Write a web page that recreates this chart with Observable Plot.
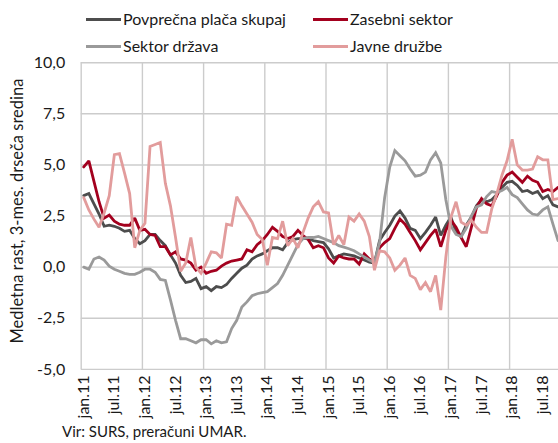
<!DOCTYPE html>
<html><head><meta charset="utf-8">
<script src="https://cdn.jsdelivr.net/npm/d3@7"></script>
<script src="https://cdn.jsdelivr.net/npm/@observablehq/plot@0.6"></script>
<style>
body{margin:0;background:#fff;overflow:hidden;font-family:Lato,sans-serif;color:#1a1a1a}
#wrap{position:relative;width:558px;height:443px;overflow:hidden;background:#fff}
#chart{position:absolute;left:0;top:0}
#legend{position:absolute;left:0;top:0;width:558px;height:56px;z-index:2}
.item{position:absolute;font-size:16px;line-height:18px;white-space:nowrap}
.sw{display:inline-block;width:35px;height:3px;vertical-align:middle;margin-right:2px;position:relative;top:-1px}
#caption{position:absolute;left:62px;top:423px;font-size:15px;line-height:17px;white-space:nowrap}
</style></head>
<body><div id="wrap"><div id="chart"></div><div id="legend"></div><div id="caption"></div></div>
<script>
// ---- data ----
const seriesNames = ["Povprečna plača skupaj", "Zasebni sektor", "Sektor država", "Javne družbe"];
const seriesColors = ["#4d4d4d", "#a3001e", "#9a9a9a", "#e29c9c"];
const xTickLabels = ["jan.11","jul.11","jan.12","jul.12","jan.13","jul.13","jan.14","jul.14","jan.15","jul.15","jan.16","jul.16","jan.17","jul.17","jan.18","jul.18"];
const yTicks = [-5, -2.5, 0, 2.5, 5, 7.5, 10];
const yTitle = "Medletna rast, 3-mes. drseča sredina";
const caption = "Vir: SURS, preračuni UMAR.";
// monthly values, jan 2011 .. oct 2018
const skupaj = [3.5,3.6,3.1,2.6,2.0,2.05,2.0,1.9,1.75,1.8,1.4,1.15,
  1.3,1.6,1.6,1.3,1.05,0.6,0.2,-0.4,-0.75,-0.7,-0.55,-1.05,
  -0.95,-1.15,-0.95,-1.0,-0.85,-0.55,-0.3,-0.05,0.1,0.4,0.55,0.65,
  0.8,0.95,0.95,0.85,1.2,1.35,1.4,1.4,1.4,1.3,1.25,1.2,
  0.9,0.45,0.55,0.65,0.6,0.55,0.45,0.35,0.25,0.2,1.3,1.7,
  2.05,2.5,2.75,2.4,1.9,1.8,1.4,1.7,2.05,2.45,1.55,2.05,
  2.45,1.7,1.5,2.05,2.45,3.0,3.3,3.2,3.3,3.55,3.9,4.15,
  4.2,4.0,3.7,3.75,3.6,3.7,3.35,3.5,3.05,2.95];
const zasebni = [4.9,5.2,4.2,3.2,2.4,2.55,2.25,2.1,2.05,2.05,2.4,1.8,
  1.85,1.6,1.55,1.0,1.0,0.6,0.75,0.4,0.35,0.2,-0.15,0.0,
  -0.3,-0.2,-0.15,0.05,0.2,0.3,0.35,0.4,0.85,0.75,1.1,1.3,
  1.6,1.95,1.75,1.5,1.4,1.5,1.8,1.55,1.35,0.95,1.05,0.95,
  0.45,0.2,0.55,0.45,0.4,0.4,0.15,0.65,0.4,0.25,0.95,1.2,
  1.4,1.9,2.35,2.1,1.7,1.3,0.85,1.2,1.55,1.85,1.0,1.8,
  2.3,1.95,1.45,1.0,1.95,2.9,3.35,3.1,3.0,3.5,4.15,4.5,
  4.65,4.4,4.15,4.45,4.25,4.15,3.7,3.8,3.7,3.9];
const drzava = [0.0,-0.1,0.4,0.5,0.35,0.05,-0.1,-0.2,-0.3,-0.35,-0.35,-0.25,
  -0.1,-0.1,-0.25,-0.6,-0.65,-1.6,-2.6,-3.5,-3.5,-3.6,-3.7,-3.55,
  -3.55,-3.75,-3.6,-3.7,-3.65,-3.0,-2.6,-1.95,-1.7,-1.4,-1.3,-1.25,
  -1.2,-1.0,-0.8,-0.4,0.1,0.6,1.1,1.4,1.45,1.45,1.5,1.4,
  1.3,1.2,1.05,0.98,0.9,0.8,0.65,0.5,0.35,0.22,1.2,3.4,
  4.9,5.7,5.45,5.2,4.8,4.45,4.5,4.65,5.25,5.6,5.1,3.3,
  2.0,1.6,1.5,1.9,2.5,2.95,3.05,3.45,3.7,3.65,3.75,3.9,
  3.55,3.4,3.1,2.8,2.6,2.55,2.8,2.95,2.1,1.3];
const javne = [3.4,2.8,2.35,1.95,2.65,3.5,5.5,5.55,4.6,3.6,0.95,1.8,
  2.15,5.9,6.0,6.1,4.1,3.0,1.45,-0.2,0.2,1.45,0.0,-0.3,
  0.2,0.75,0.7,0.45,2.1,2.05,3.45,3.0,2.6,2.2,1.6,1.35,
  0.1,1.45,1.4,2.25,1.05,1.4,0.95,1.7,2.4,2.95,3.2,2.7,
  2.65,1.1,1.55,1.1,2.45,2.25,2.6,2.25,1.5,-0.15,0.8,0.75,
  0.45,-0.15,0.1,0.45,-0.4,-0.55,-1.1,-0.75,-1.2,-0.4,-2.1,0.5,
  2.45,3.2,2.2,2.05,2.3,1.95,1.7,1.7,2.85,3.6,4.5,5.2,
  6.25,5.0,4.75,4.75,4.8,5.4,5.25,5.25,3.3,3.35];
const seriesValues = [skupaj, zasebni, drzava, javne];

// ---- build ----
const rows = [];
seriesValues.forEach((vals, k) => vals.forEach((v, i) => rows.push({i, v, s: seriesNames[k]})));
const tickIdx = xTickLabels.map((_, k) => k * 6);
const gridX = d3.range(-0.5, 94, 12);
const fmt = d => d.toFixed(1).replace(".", ",");

// legend
const legPos = [[86, 10], [313, 10], [86, 37], [313, 37]];
const leg = document.getElementById("legend");
seriesNames.forEach((n, k) => {
  const d = document.createElement("div");
  d.className = "item";
  d.style.left = legPos[k][0] + "px"; d.style.top = legPos[k][1] + "px";
  d.innerHTML = `<span class="sw" style="background:${seriesColors[k]}"></span>${n}`;
  leg.appendChild(d);
});
document.getElementById("caption").textContent = caption;

const chart = Plot.plot({
  width: 558, height: 420,
  marginTop: 62.2, marginBottom: 51.1, marginLeft: 80.7, marginRight: 0,
  style: {fontFamily: "Lato, sans-serif", fontSize: "16px", color: "#1a1a1a", overflow: "hidden", background: "transparent"},
  x: {domain: [-0.5, 93.5], range: [80.7, 560.1]},
  y: {domain: [-5, 10]},
  color: {domain: seriesNames, range: seriesColors},
  marks: [
    Plot.ruleY(yTicks, {stroke: "#cccccc", strokeWidth: 1.4}),
    Plot.ruleX(gridX, {stroke: "#cccccc", strokeWidth: 1.4}),
    Plot.axisY({ticks: yTicks, tickFormat: fmt, tickSize: 0, tickPadding: 16, label: null, fontSize: 16}),
    Plot.axisX({ticks: tickIdx, tickFormat: d => xTickLabels[tickIdx.indexOf(d)], tickRotate: -90, tickSize: 0, tickPadding: 6, label: null, fontSize: 16}),
    Plot.line(rows, {x: "i", y: "v", z: "s", stroke: "s", strokeWidth: 2.8, strokeLinejoin: "miter", strokeMiterlimit: 2}),
    Plot.text([yTitle], {frameAnchor: "left", rotate: -90, dx: -63, dy: -5, fontSize: 16.5, textAnchor: "middle", lineAnchor: "middle"})
  ]
});
document.getElementById("chart").appendChild(chart);
</script></body></html>
